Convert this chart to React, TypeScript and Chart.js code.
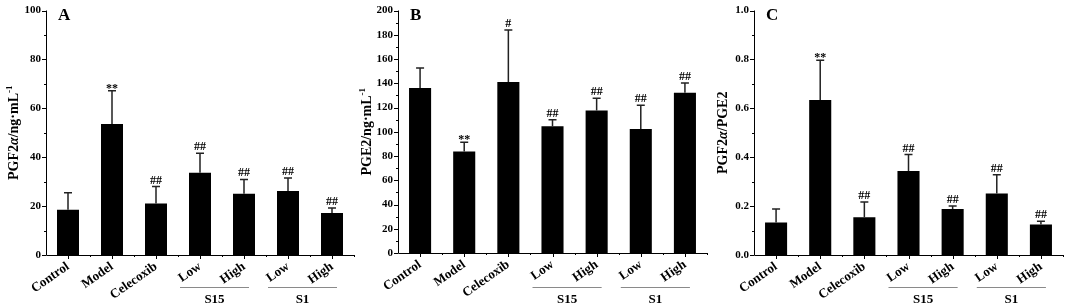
import { useEffect, useRef } from 'react';
import { Chart, registerables } from 'chart.js';

Chart.register(...registerables);

const FONT = '"Liberation Serif", "Times New Roman", serif';

// ---- data ----
const categories = ['Control', 'Model', 'Celecoxib', 'Low', 'High', 'Low', 'High'];
const groupLabels = ['S15', 'S1'];
const groupStart = [3, 5];
const groupEnd = [4, 6];

const pgf2aMean = [18.5, 53.6, 21.1, 33.6, 25.1, 26.2, 17.2];
const pgf2aSD = [7.0, 13.6, 6.9, 8.0, 5.8, 5.3, 2.0];
const pgf2aMarks = ['', '**', '##', '##', '##', '##', '##'];

const pge2Mean = [136, 83.8, 141, 104.6, 117.6, 102.2, 132.2];
const pge2SD = [16.5, 7.6, 43, 5.4, 10, 19.7, 8.1];
const pge2Marks = ['', '**', '#', '##', '##', '##', '##'];

const ratioMean = [0.133, 0.634, 0.154, 0.344, 0.188, 0.252, 0.125];
const ratioSD = [0.055, 0.163, 0.063, 0.067, 0.012, 0.076, 0.013];
const ratioMarks = ['', '**', '##', '##', '##', '##', '##'];

const yTicksA = [0, 20, 40, 60, 80, 100];
const yTicksB = [0, 20, 40, 60, 80, 100, 120, 140, 160, 180, 200];
const yTicksC = [0, 0.2, 0.4, 0.6, 0.8, 1.0];
const yTickLabelsC = ['0.0', '0.2', '0.4', '0.6', '0.8', '1.0'];

// title pieces: [text, style] n=normal bold, i=italic bold, s=superscript
const titleA: [string, string][] = [['PGF2', 'n'], ['α', 'i'], ['/ng·mL', 'n'], ['-1', 's']];
const titleB: [string, string][] = [['PGE2/ng·mL', 'n'], ['-1', 's']];
const titleC: [string, string][] = [['PGF2', 'n'], ['α', 'i'], ['/PGE2', 'n']];

type PanelProps = {
  x: number;
  letter: string;
  means: number[];
  sds: number[];
  marks: string[];
  ticks: number[];
  tickLabels?: string[];
  title: [string, string][];
  titleX: number;
  chartLeft: number;
  chartRight: number;
  top: number;
  bottom: number;
};

const W = 355;
const H = 306;

function pieceFont(style: string) {
  if (style === 'i') return `italic bold 14px ${FONT}`;
  if (style === 's') return `bold 9px ${FONT}`;
  return `bold 14px ${FONT}`;
}

function Panel(p: PanelProps) {
  const ref = useRef<HTMLCanvasElement>(null);
  useEffect(() => {
    const canvas = ref.current!;
    const decor = {
      id: 'decor' + p.letter,
      afterDraw(chart: any) {
        const ctx = chart.ctx as CanvasRenderingContext2D;
        const xs = chart.scales.x;
        const ys = chart.scales.y;
        const a = chart.chartArea;
        ctx.save();
        ctx.strokeStyle = '#000';
        ctx.fillStyle = '#000';
        ctx.lineWidth = 1;
        // axes
        ctx.beginPath();
        ctx.moveTo(a.left + 0.5, a.top);
        ctx.lineTo(a.left + 0.5, a.bottom + 0.5);
        ctx.lineTo(a.right, a.bottom + 0.5);
        ctx.stroke();
        // y ticks
        const tv = p.ticks;
        ctx.beginPath();
        for (let i = 0; i < tv.length; i++) {
          const y = Math.round(ys.getPixelForValue(tv[i])) + 0.5;
          ctx.moveTo(a.left - 4, y);
          ctx.lineTo(a.left, y);
          if (i < tv.length - 1) {
            const ym = Math.round(ys.getPixelForValue((tv[i] + tv[i + 1]) / 2)) + 0.5;
            ctx.moveTo(a.left - 2, ym);
            ctx.lineTo(a.left, ym);
          }
        }
        // x ticks
        const step = xs.getPixelForValue(1) - xs.getPixelForValue(0);
        for (let i = 0; i < categories.length; i++) {
          const x = Math.round(xs.getPixelForValue(i)) + 0.5;
          ctx.moveTo(x, a.bottom);
          ctx.lineTo(x, a.bottom + 4);
          const xb = Math.round(xs.getPixelForValue(i) + step / 2) + 0.5;
          ctx.moveTo(xb, a.bottom);
          ctx.lineTo(xb, a.bottom + 2);
        }
        ctx.stroke();
        // error bars + marks
        const meta = chart.getDatasetMeta(0);
        meta.data.forEach((bar: any, i: number) => {
          const x = bar.x;
          const y0 = ys.getPixelForValue(p.means[i]);
          const y1 = ys.getPixelForValue(p.means[i] + p.sds[i]);
          ctx.strokeStyle = '#222';
          ctx.lineWidth = 1.5;
          ctx.beginPath();
          ctx.moveTo(x, y0);
          ctx.lineTo(x, y1);
          ctx.moveTo(x - 4, y1);
          ctx.lineTo(x + 4, y1);
          ctx.stroke();
          const m = p.marks[i];
          if (m) {
            ctx.font = `bold 12px ${FONT}`;
            ctx.textAlign = 'center';
            ctx.textBaseline = 'alphabetic';
            const by = m.startsWith('*') ? y1 + 1 : y1 - 3;
            ctx.fillText(m, x, by);
          }
        });
        // group lines and labels
        ctx.strokeStyle = '#8a8a8a';
        ctx.lineWidth = 1;
        for (let g = 0; g < groupLabels.length; g++) {
          const xa = xs.getPixelForValue(groupStart[g]) - 20;
          const xb = xs.getPixelForValue(groupEnd[g]) + 5;
          ctx.beginPath();
          ctx.moveTo(xa, 287.5);
          ctx.lineTo(xb, 287.5);
          ctx.stroke();
          ctx.font = `bold 13px ${FONT}`;
          ctx.textAlign = 'center';
          ctx.textBaseline = 'alphabetic';
          ctx.fillText(groupLabels[g], (xa + xb) / 2, 303);
        }
        // panel letter
        ctx.font = `bold 17px ${FONT}`;
        ctx.textAlign = 'left';
        ctx.fillText(p.letter, a.left + 12, 20);
        // y title
        let total = 0;
        for (const [t, s] of p.title) {
          ctx.font = pieceFont(s);
          total += ctx.measureText(t).width;
        }
        const cy = (a.top + a.bottom) / 2;
        ctx.translate(p.titleX, cy);
        ctx.rotate(-Math.PI / 2);
        let cx = -total / 2;
        ctx.textAlign = 'left';
        for (const [t, s] of p.title) {
          ctx.font = pieceFont(s);
          ctx.fillText(t, cx, s === 's' ? -6 : 0);
          cx += ctx.measureText(t).width;
        }
        ctx.restore();
      },
    };
    const chart = new Chart(canvas, {
      type: 'bar',
      data: {
        labels: categories,
        datasets: [
          {
            data: p.means,
            backgroundColor: '#000',
            borderWidth: 0,
            barPercentage: 0.5,
            categoryPercentage: 1,
          },
        ],
      },
      options: {
        responsive: false,
        animation: false,
        layout: { padding: { top: p.top, right: W - p.chartRight, left: 0, bottom: 0 } },
        plugins: { legend: { display: false }, tooltip: { enabled: false } },
        scales: {
          x: {
            offset: true,
            grid: { display: false, drawTicks: false },
            border: { display: false },
            ticks: {
              autoSkip: false,
              minRotation: 35,
              maxRotation: 35,
              padding: 4,
              color: '#000',
              font: { family: FONT, size: 13, weight: 'bold' },
            },
            afterFit: (s: any) => {
              s.height = H - p.bottom;
            },
          },
          y: {
            min: p.ticks[0],
            max: p.ticks[p.ticks.length - 1],
            grid: { display: false, drawTicks: false },
            border: { display: false },
            afterBuildTicks: (s: any) => {
              s.ticks = p.ticks.map((v) => ({ value: v }));
            },
            ticks: {
              padding: 5,
              color: '#000',
              font: { family: FONT, size: 11, weight: 'bold', lineHeight: 1 },
              callback: (v: any, i: number) => (p.tickLabels ? p.tickLabels[i] : String(v)),
            },
            afterFit: (s: any) => {
              s.width = p.chartLeft;
            },
          },
        },
      },
      plugins: [decor],
    } as any);
    return () => chart.destroy();
  }, []);
  return (
    <canvas
      ref={ref}
      width={W}
      height={H}
      style={{ position: 'absolute', left: p.x, top: 0, width: W, height: H }}
    />
  );
}

export default function App() {
  return (
    <div style={{ position: 'absolute', left: 0, top: 0, width: 1065, height: 306, background: '#fff' }}>
      <Panel
        x={0}
        letter="A"
        means={pgf2aMean}
        sds={pgf2aSD}
        marks={pgf2aMarks}
        ticks={yTicksA}
        title={titleA}
        titleX={18}
        chartLeft={46}
        chartRight={354}
        top={7}
        bottom={255}
      />
      <Panel
        x={355}
        letter="B"
        means={pge2Mean}
        sds={pge2SD}
        marks={pge2Marks}
        ticks={yTicksB}
        title={titleB}
        titleX={16}
        chartLeft={43}
        chartRight={352}
        top={6}
        bottom={253}
      />
      <Panel
        x={710}
        letter="C"
        means={ratioMean}
        sds={ratioSD}
        marks={ratioMarks}
        ticks={yTicksC}
        tickLabels={yTickLabelsC}
        title={titleC}
        titleX={17}
        chartLeft={44}
        chartRight={353}
        top={7}
        bottom={255}
      />
    </div>
  );
}
